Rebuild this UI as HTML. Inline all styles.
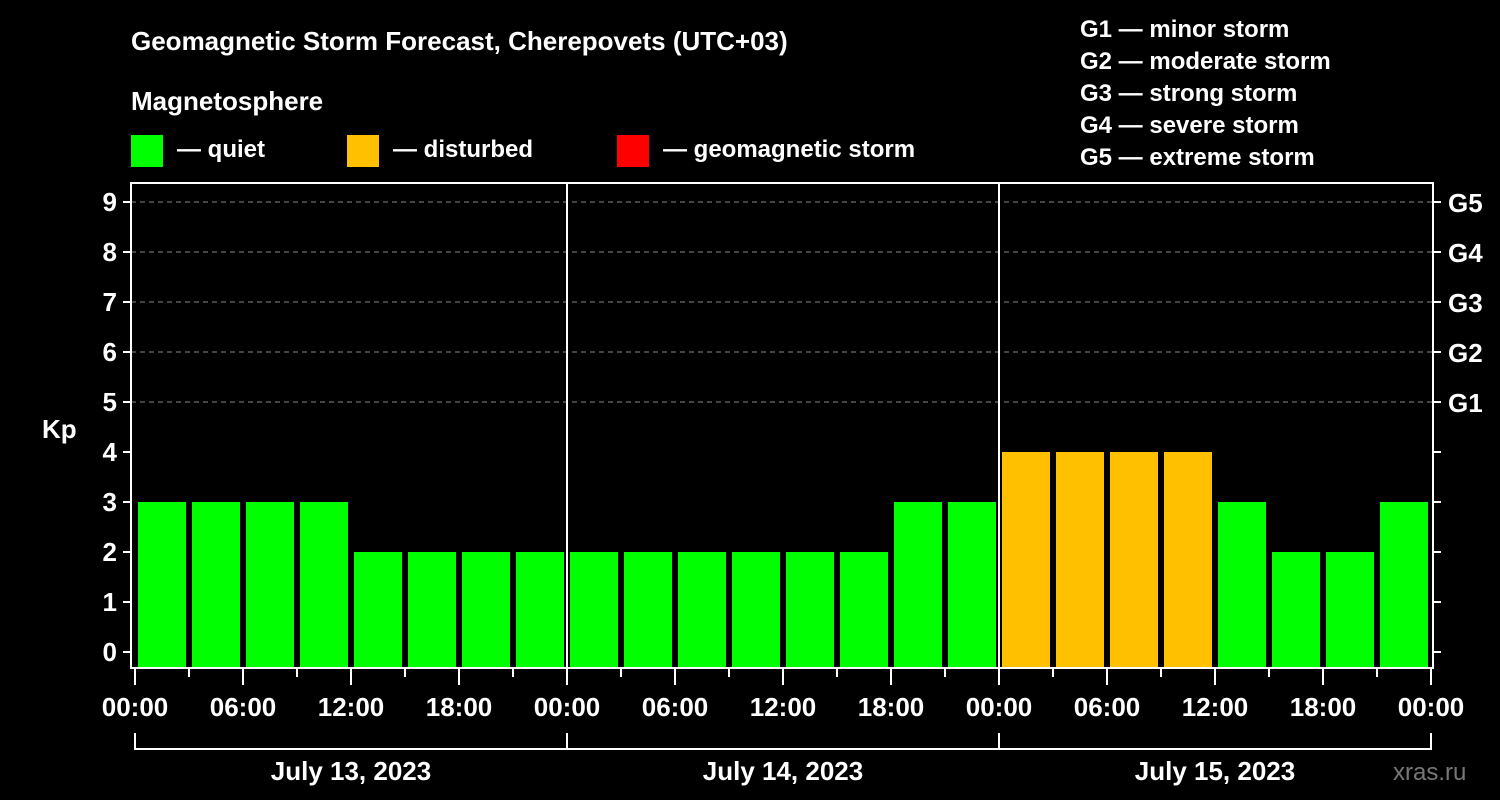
<!DOCTYPE html>
<html><head><meta charset="utf-8"><style>
html,body{margin:0;padding:0;background:#000;width:1500px;height:800px;overflow:hidden}
svg text{font-family:"Liberation Sans",Arial,sans-serif;font-weight:bold;fill:#fff}
</style></head><body>
<svg id="chart" width="1500" height="800" xmlns="http://www.w3.org/2000/svg">
<text x="131" y="50" font-size="26">Geomagnetic Storm Forecast, Cherepovets (UTC+03)</text>
<text x="131" y="110" font-size="26">Magnetosphere</text>
<g>
<rect x="131" y="135" width="32" height="32" fill="#00ff00"/>
<text x="177" y="157" font-size="24">— quiet</text>
<rect x="347" y="135" width="32" height="32" fill="#ffc000"/>
<text x="393" y="157" font-size="24">— disturbed</text>
<rect x="617" y="135" width="32" height="32" fill="#ff0000"/>
<text x="663" y="157" font-size="24">— geomagnetic storm</text>
</g>
<g font-size="24">
<text x="1080" y="37">G1 — minor storm</text>
<text x="1080" y="69">G2 — moderate storm</text>
<text x="1080" y="101">G3 — strong storm</text>
<text x="1080" y="133">G4 — severe storm</text>
<text x="1080" y="165">G5 — extreme storm</text>
</g>
<text x="42" y="438" font-size="26">Kp</text>
<text x="1393" y="780" font-size="24" style="fill:#777;font-weight:normal">xras.ru</text>
<g id="grid"></g><g id="bars"></g><g id="axes"></g>
</svg>
<script>
const kpValues=[3,3,3,3,2,2,2,2, 2,2,2,2,2,2,3,3, 4,4,4,4,3,2,2,3];
const dayLabels=["July 13, 2023","July 14, 2023","July 15, 2023"];
const hourLabels=["00:00","06:00","12:00","18:00"];
const gLabels=["G1","G2","G3","G4","G5"];
const NS="http://www.w3.org/2000/svg";
const x0=135,dayW=432,slot=54,plotL=131,plotR=1433,plotT=183,plotB=668;
const y=v=>652-50*v;
const x=i=>x0+slot*i;
function mk(tag,attrs,parent){const e=document.createElementNS(NS,tag);for(const k in attrs)e.setAttribute(k,attrs[k]);document.getElementById(parent).appendChild(e);return e;}
// grid lines G1..G5
for(let v=5;v<=9;v++){const l=mk('line',{x1:plotL,x2:plotR,y1:y(v),y2:y(v),stroke:'#888','stroke-dasharray':'5,4','stroke-width':1},'grid');

}
// bars
kpValues.forEach((v,i)=>{const r=mk('rect',{x:x(i)+3,y:y(v),width:48,height:plotB-1-y(v),fill:v>=5?'#ff0000':(v>=4?'#ffc000':'#00ff00')},'bars');

});
// frame
const f=mk('rect',{x:plotL,y:plotT,width:plotR-plotL,height:plotB-plotT,fill:'none',stroke:'#fff','stroke-width':2},'axes');


// day separators
for(let d=1;d<3;d++){const l=mk('line',{x1:x0+dayW*d,x2:x0+dayW*d,y1:plotT,y2:plotB,stroke:'#fff','stroke-width':2},'axes');

}
// y ticks
for(let v=0;v<=9;v++){
const t=mk('line',{x1:123,x2:plotL,y1:y(v),y2:y(v),stroke:'#fff','stroke-width':2},'axes');


const t2=mk('line',{x1:plotR,x2:1441,y1:y(v),y2:y(v),stroke:'#fff','stroke-width':2},'axes');


const tx=mk('text',{x:117,y:y(v)+9,'font-size':26,'text-anchor':'end'},'axes');tx.textContent=v;


if(v>=5){const g=mk('text',{x:1448,y:y(v)+10,'font-size':26},'axes');g.textContent=gLabels[v-5];

}
}
// x ticks
for(let i=0;i<=kpValues.length;i++){const major=i%2===0;
const t=mk('line',{x1:x(i),x2:x(i),y1:plotB,y2:plotB+(major?17:9),stroke:'#fff','stroke-width':2},'axes');


if(major){const tx=mk('text',{x:x(i),y:716,'font-size':26,'text-anchor':'middle'},'axes');tx.textContent=hourLabels[(i/2)%4];

}}
// day bracket
const b=mk('line',{x1:x0,x2:x0+dayW*3,y1:749,y2:749,stroke:'#fff','stroke-width':2},'axes');


for(let d=0;d<=3;d++){const l=mk('line',{x1:x0+dayW*d,x2:x0+dayW*d,y1:733,y2:750,stroke:'#fff','stroke-width':2},'axes');

}
dayLabels.forEach((s,d)=>{const tx=mk('text',{x:x0+dayW*d+dayW/2,y:780,'font-size':26,'text-anchor':'middle'},'axes');tx.textContent=s;

});
</script>
</body></html>
